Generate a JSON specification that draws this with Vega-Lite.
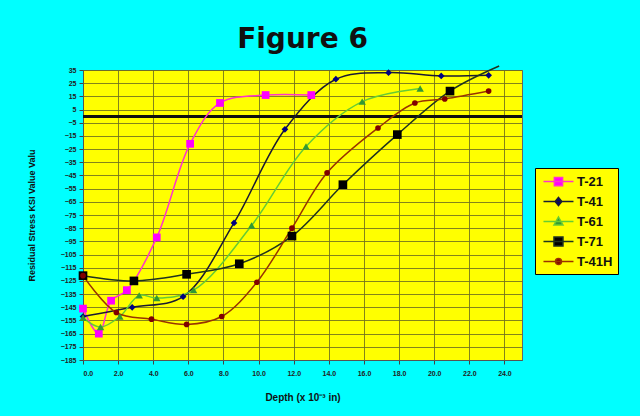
{
  "$schema": "https://vega.github.io/schema/vega-lite/v6.json",
  "autosize": {"type": "none"},
  "width": 439,
  "height": 290,
  "padding": {"left": 83, "top": 70, "right": 118, "bottom": 56},
  "background": "#00FFFF",
  "title": {"text": "Figure 6", "font": "DejaVu Sans", "fontSize": 28, "fontWeight": "bold", "color": "#111", "offset": 9, "anchor": "middle"},
  "config": {
    "view": {"fill": "#FFFF00", "stroke": "#666", "strokeWidth": 1},
    "axis": {"labelFont": "Liberation Sans", "titleFont": "Liberation Sans", "labelFontWeight": "bold", "titleFontWeight": "bold", "labelColor": "#222", "titleColor": "#111", "gridColor": "#6e6e1e", "gridOpacity": 0.85, "gridWidth": 1, "tickColor": "#444", "tickSize": 4, "domainColor": "#555"},
    "legend": {
      "orient": "none", "legendX": 452, "legendY": 98, "direction": "vertical",
      "fillColor": "#FFFF00", "strokeColor": "#000", "padding": 5,
      "symbolSize": 225, "rowPadding": 4, "labelOffset": 20,
      "labelFont": "Liberation Sans", "labelFontSize": 13, "labelFontWeight": "bold", "labelColor": "#111"
    }
  },
  "data": {"values": [
    {"series": "T-21", "x": 0, "y": -146},
    {"series": "T-21", "x": 0.9, "y": -165},
    {"series": "T-21", "x": 1.6, "y": -140},
    {"series": "T-21", "x": 2.5, "y": -132},
    {"series": "T-21", "x": 4.2, "y": -92},
    {"series": "T-21", "x": 6.1, "y": -21},
    {"series": "T-21", "x": 7.8, "y": 10},
    {"series": "T-21", "x": 10.4, "y": 16},
    {"series": "T-21", "x": 13, "y": 16},
    {"series": "T-41", "x": 0, "y": -152},
    {"series": "T-41", "x": 2.8, "y": -145},
    {"series": "T-41", "x": 5.7, "y": -137},
    {"series": "T-41", "x": 8.6, "y": -81},
    {"series": "T-41", "x": 11.5, "y": -10},
    {"series": "T-41", "x": 14.4, "y": 28},
    {"series": "T-41", "x": 17.4, "y": 33},
    {"series": "T-41", "x": 20.4, "y": 30.5},
    {"series": "T-41", "x": 23.1, "y": 31},
    {"series": "T-61", "x": 0, "y": -153},
    {"series": "T-61", "x": 1.0, "y": -160},
    {"series": "T-61", "x": 2.1, "y": -152},
    {"series": "T-61", "x": 3.2, "y": -136},
    {"series": "T-61", "x": 4.2, "y": -138},
    {"series": "T-61", "x": 6.3, "y": -132},
    {"series": "T-61", "x": 9.6, "y": -83},
    {"series": "T-61", "x": 12.7, "y": -23},
    {"series": "T-61", "x": 15.9, "y": 11},
    {"series": "T-61", "x": 19.2, "y": 21},
    {"series": "T-71", "x": 0, "y": -121},
    {"series": "T-71", "x": 2.9, "y": -125},
    {"series": "T-71", "x": 5.9, "y": -120},
    {"series": "T-71", "x": 8.9, "y": -112},
    {"series": "T-71", "x": 11.9, "y": -91},
    {"series": "T-71", "x": 14.8, "y": -52},
    {"series": "T-71", "x": 17.9, "y": -14},
    {"series": "T-71", "x": 20.9, "y": 19},
    {"series": "T-71", "x": 23.7, "y": 38},
    {"series": "T-41H", "x": 0, "y": -121},
    {"series": "T-41H", "x": 1.9, "y": -149},
    {"series": "T-41H", "x": 3.9, "y": -154},
    {"series": "T-41H", "x": 5.9, "y": -158},
    {"series": "T-41H", "x": 7.9, "y": -152},
    {"series": "T-41H", "x": 9.9, "y": -126},
    {"series": "T-41H", "x": 11.9, "y": -85},
    {"series": "T-41H", "x": 13.9, "y": -43},
    {"series": "T-41H", "x": 16.8, "y": -9},
    {"series": "T-41H", "x": 18.9, "y": 10},
    {"series": "T-41H", "x": 20.6, "y": 13},
    {"series": "T-41H", "x": 23.1, "y": 19}
  ]},
  "encoding": {
    "x": {"field": "x", "type": "quantitative", "scale": {"domain": [0, 25], "nice": false, "zero": false},
      "axis": {"values": [0, 2, 4, 6, 8, 10, 12, 14, 16, 18, 20, 22, 24], "format": ".1f", "labelFontSize": 7, "labelPadding": 5, "title": "Depth (x 10⁻³ in)", "titleFontSize": 10, "titlePadding": 16}},
    "y": {"field": "y", "type": "quantitative", "scale": {"domain": [-185, 35], "nice": false, "zero": false},
      "axis": {"values": [35, 25, 15, 5, -5, -15, -25, -35, -45, -55, -65, -75, -85, -95, -105, -115, -125, -135, -145, -155, -165, -175, -185], "labelFontSize": 7, "labelPadding": 3, "title": "Residual Stress KSI Value Valu", "titleFontSize": 9, "titlePadding": 24}}
  },
  "layer": [
    {
      "mark": {"type": "rule", "color": "#111", "strokeWidth": 2},
      "encoding": {"y": {"datum": 0}, "x": null}
    },
    {
      "mark": {"type": "line", "interpolate": "catmull-rom", "strokeWidth": 1.5},
      "encoding": {
        "detail": {"field": "series"},
        "stroke": {"field": "series", "type": "nominal", "title": null,
          "scale": {"domain": ["T-21", "T-41", "T-61", "T-71", "T-41H"], "range": ["#ff33cc", "#1a1a33", "#66cc33", "#1f331f", "#993300"]},
          "legend": {"encode": {"symbols": {"update": {
            "shape": {"signal": "datum.value === 'T-21' ? 'M-0.67,0H3.33M0.78,-0.55H1.88V0.55H0.78Z' : datum.value === 'T-41' ? 'M-0.67,0H3.33M1.33,-0.55L1.78,0L1.33,0.55L0.88,0Z' : datum.value === 'T-61' ? 'M-0.67,0H3.33M1.33,-0.6L1.93,0.45H0.73Z' : datum.value === 'T-71' ? 'M-0.67,0H3.33M0.73,-0.6H1.93V0.6H0.73Z' : 'M-0.67,0H3.33M0.93,0A0.4,0.4,0,1,1,1.73,0A0.4,0.4,0,1,1,0.93,0Z'"},
            "strokeWidth": {"value": 1.5}}}}}}
      }
    },
    {
      "encoding": {
        "fill": {"field": "series", "type": "nominal", "title": null,
          "scale": {"domain": ["T-21", "T-41", "T-61", "T-71", "T-41H"], "range": ["#ff00ff", "#000080", "#339933", "#000000", "#800000"]},
          "legend": {"encode": {"symbols": {"update": {
            "shape": {"signal": "datum.value === 'T-21' ? 'M-0.67,0H3.33M0.78,-0.55H1.88V0.55H0.78Z' : datum.value === 'T-41' ? 'M-0.67,0H3.33M1.33,-0.55L1.78,0L1.33,0.55L0.88,0Z' : datum.value === 'T-61' ? 'M-0.67,0H3.33M1.33,-0.6L1.93,0.45H0.73Z' : datum.value === 'T-71' ? 'M-0.67,0H3.33M0.73,-0.6H1.93V0.6H0.73Z' : 'M-0.67,0H3.33M0.93,0A0.4,0.4,0,1,1,1.73,0A0.4,0.4,0,1,1,0.93,0Z'"},
            "strokeWidth": {"value": 1.5}}}}}}
      },
      "layer": [
        {"transform": [{"filter": "datum.series === 'T-21'"}], "mark": {"type": "point", "shape": "square", "filled": true, "opacity": 1, "size": 60}},
        {"transform": [{"filter": "datum.series === 'T-41'"}], "mark": {"type": "point", "shape": "diamond", "filled": true, "opacity": 1, "size": 45}},
        {"transform": [{"filter": "datum.series === 'T-61'"}], "mark": {"type": "point", "shape": "triangle-up", "filled": true, "opacity": 1, "size": 55}},
        {"transform": [{"filter": "datum.series === 'T-71' && datum.y <= 35"}], "mark": {"type": "point", "shape": "square", "filled": true, "opacity": 1, "size": 75}},
        {"transform": [{"filter": "datum.series === 'T-41H'"}], "mark": {"type": "point", "shape": "circle", "filled": true, "opacity": 1, "size": 32}}
      ]
    }
  ]
}
